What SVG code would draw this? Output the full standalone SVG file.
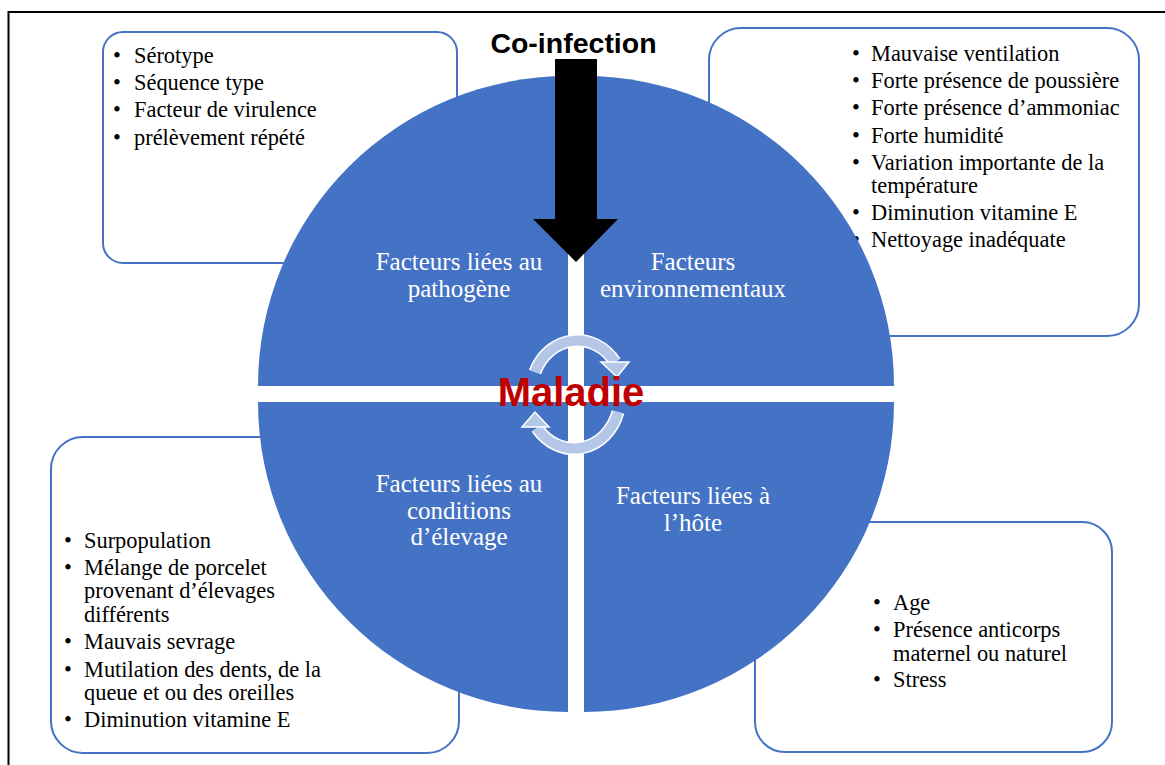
<svg xmlns="http://www.w3.org/2000/svg" width="1165" height="765" viewBox="0 0 1165 765">
<style>
.box{fill:#fff;stroke:#4472C4;stroke-width:2}
.q{fill:#4472C4}
.bt{font-family:"Liberation Serif","Times New Roman",serif;font-size:22.4px;fill:#000}
.bl{font-family:"Liberation Serif","Times New Roman",serif;font-size:22.4px;fill:#000;text-anchor:middle}
.ql{font-family:"Liberation Serif","Times New Roman",serif;font-size:25px;fill:#fff;text-anchor:middle}
.arcw{fill:none;stroke:#fff;stroke-width:13}
.arcc{fill:none;stroke:#B4C7E7;stroke-width:10}
.ah{fill:#B4C7E7;stroke:#fff;stroke-width:1.5;stroke-linejoin:miter}
</style>
<rect x="0" y="0" width="1165" height="765" fill="#fff"/>
<path d="M8.5 765 L8.5 12 L1165 12" fill="none" stroke="#000" stroke-width="2"/>

<g id="box-pathogene">
<rect class="box" x="103" y="32" width="354" height="231" rx="20"/>
<text class="bl" x="117" y="63">•</text><text class="bt" x="134" y="63">Sérotype</text>
<text class="bl" x="117" y="90">•</text><text class="bt" x="134" y="90">Séquence type</text>
<text class="bl" x="117" y="117">•</text><text class="bt" x="134" y="117">Facteur de virulence</text>
<text class="bl" x="117" y="145">•</text><text class="bt" x="134" y="145">prélèvement répété</text>
</g>

<g id="box-environnement">
<rect class="box" x="709" y="28" width="430" height="308" rx="32"/>
<text class="bl" x="856" y="61">•</text><text class="bt" x="871" y="61">Mauvaise ventilation</text>
<text class="bl" x="856" y="88">•</text><text class="bt" x="871" y="88">Forte présence de poussière</text>
<text class="bl" x="856" y="115">•</text><text class="bt" x="871" y="115">Forte présence d’ammoniac</text>
<text class="bl" x="856" y="143">•</text><text class="bt" x="871" y="143">Forte humidité</text>
<text class="bl" x="856" y="170">•</text><text class="bt" x="871" y="170">Variation importante de la</text>
<text class="bt" x="871" y="193">température</text>
<text class="bl" x="856" y="220">•</text><text class="bt" x="871" y="220">Diminution vitamine E</text>
<text class="bl" x="856" y="247">•</text><text class="bt" x="871" y="247">Nettoyage inadéquate</text>
</g>

<g id="box-elevage">
<rect class="box" x="51" y="437" width="408" height="316" rx="32"/>
<text class="bl" x="68" y="548">•</text><text class="bt" x="84" y="548">Surpopulation</text>
<text class="bl" x="68" y="575">•</text><text class="bt" x="84" y="575">Mélange de porcelet</text>
<text class="bt" x="84" y="598">provenant d’élevages</text>
<text class="bt" x="84" y="622">différents</text>
<text class="bl" x="68" y="649">•</text><text class="bt" x="84" y="649">Mauvais sevrage</text>
<text class="bl" x="68" y="677">•</text><text class="bt" x="84" y="677">Mutilation des dents, de la</text>
<text class="bt" x="84" y="700">queue et ou des oreilles</text>
<text class="bl" x="68" y="727">•</text><text class="bt" x="84" y="727">Diminution vitamine E</text>
</g>

<g id="box-hote">
<rect class="box" x="755" y="522" width="357" height="230" rx="30"/>
<text class="bl" x="877" y="610">•</text><text class="bt" x="893" y="610">Age</text>
<text class="bl" x="877" y="637">•</text><text class="bt" x="893" y="637">Présence anticorps</text>
<text class="bt" x="893" y="661">maternel ou naturel</text>
<text class="bl" x="877" y="687">•</text><text class="bt" x="893" y="687">Stress</text>
</g>

<g id="q-pathogene">
<path class="q" d="M568 386 L258 386 A310 310 0 0 1 568 76 Z"/>
<text class="ql" x="459" y="270">Facteurs liées au</text>
<text class="ql" x="459" y="297">pathogène</text>
</g>
<g id="q-environnement">
<path class="q" d="M584 386 L584 76 A310 310 0 0 1 894 386 Z"/>
<text class="ql" x="693" y="270">Facteurs</text>
<text class="ql" x="693" y="297">environnementaux</text>
</g>
<g id="q-elevage">
<path class="q" d="M568 402 L568 712 A310 310 0 0 1 258 402 Z"/>
<text class="ql" x="459" y="492">Facteurs liées au</text>
<text class="ql" x="459" y="519">conditions</text>
<text class="ql" x="459" y="545">d’élevage</text>
</g>
<g id="q-hote">
<path class="q" d="M584 402 L894 402 A310 310 0 0 1 584 712 Z"/>
<text class="ql" x="693" y="504">Facteurs liées à</text>
<text class="ql" x="693" y="531">l’hôte</text>
</g>

<g id="connectors">
<g id="co-infection">
<text x="573.5" y="53" font-family="'Liberation Sans',Arial,sans-serif" font-weight="bold" font-size="28.5" text-anchor="middle" fill="#000">Co-infection</text>
<polygon points="555,59 597,59 597,219 618,219 576,262 533,219 555,219" fill="#000"/>
</g>
<g id="cycle">
<path class="arcw" d="M535 372 A46 51 0 0 1 615 362"/>
<path class="arcc" d="M535 372 A46 51 0 0 1 615 362"/>
<polygon class="ah" points="601,362 629,362 617,377"/>
<path class="arcw" d="M618 412 A46 51 0 0 1 537 428"/>
<path class="arcc" d="M618 412 A46 51 0 0 1 537 428"/>
<polygon class="ah" points="522,427 549,427 535,412"/>
</g>
</g>

<g id="maladie">
<text x="571" y="406" font-family="'Liberation Sans',Arial,sans-serif" font-weight="bold" font-size="40" text-anchor="middle" fill="#C00000">Maladie</text>
</g>
</svg>
